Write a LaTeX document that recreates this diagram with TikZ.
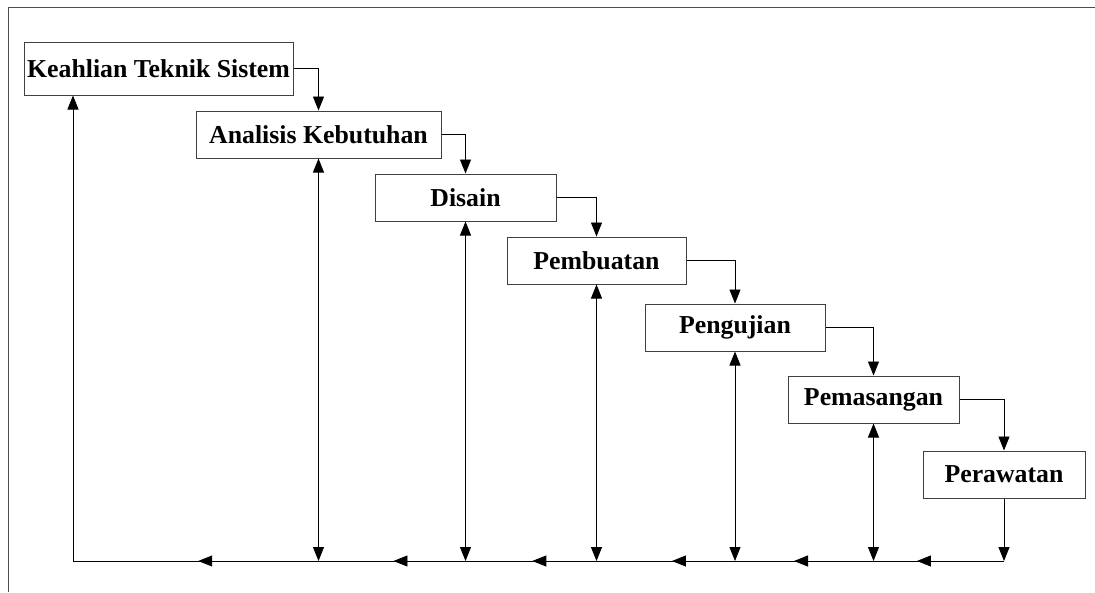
\documentclass[tikz,border=0pt]{standalone}
\usepackage{fontspec}
\setmainfont{Liberation Serif}
\usetikzlibrary{arrows.meta,decorations.markings}
\begin{document}
\begin{tikzpicture}[x=1pt,y=-1pt,
  >={Triangle[length=14pt,width=11pt]},
  box/.style={draw=black!75,line width=1pt,fill=white,inner sep=0pt,
    minimum height=47pt,font=\fontsize{25.8}{30}\selectfont\bfseries},
  conn/.style={draw=black,line width=0.9pt},
  midarr/.style={postaction={decorate},decoration={markings,
    mark=at position #1 with {\arrow{Triangle[length=14pt,width=11pt]}}}}]
\useasboundingbox (0,0) rectangle (1095,592);
\draw[black!70,line width=1pt] (8,592) -- (8,7) -- (1095,7);
% boxes
\node[box,minimum width=269pt,minimum height=53pt] (k) at (158.5,68.5) {Keahlian Teknik Sistem};
\node[box,minimum width=245pt] (a) at (318.5,134.5) {Analisis Kebutuhan};
\node[box,minimum width=181pt] (d) at (465.5,197.5) {Disain};
\node[box,minimum width=179pt] (p) at (596.5,260.5) {Pembuatan};
\node[box,minimum width=180pt] (u) at (735,327.5) {Pengujian};
\node[box,minimum width=171pt] (m) at (873.5,399.5) {Pemasangan};
\node[box,minimum width=162pt] (w) at (1004,474.5) {Perawatan};
% forward connectors
\draw[conn,->] (k.east) -| (a.north);
\draw[conn,->] (a.east) -| (d.north);
\draw[conn,->] (d.east) -| (p.north);
\draw[conn,->] (p.east) -| (u.north);
\draw[conn,->] (u.east) -| (m.north);
\draw[conn,->] (m.east) -| (w.north);
% feet on the bottom line
\coordinate (f1) at (73,561);
\coordinate (f2) at (a.south |- f1);
\coordinate (f3) at (d.south |- f1);
\coordinate (f4) at (p.south |- f1);
\coordinate (f5) at (u.south |- f1);
\coordinate (f6) at (m.south |- f1);
\coordinate (f7) at (w.south |- f1);
% verticals
\draw[conn,->] (f1) -- (f1 |- k.south);
\draw[conn,<->] (a.south) -- (f2);
\draw[conn,<->] (d.south) -- (f3);
\draw[conn,<->] (p.south) -- (f4);
\draw[conn,<->] (u.south) -- (f5);
\draw[conn,<->] (m.south) -- (f6);
\draw[conn,->] (w.south) -- (f7);
% bottom return line
\draw[conn,midarr=0.49] (f2) -- (f1);
\draw[conn,midarr=0.49] (f3) -- (f2);
\draw[conn,midarr=0.49] (f4) -- (f3);
\draw[conn,midarr=0.455] (f5) -- (f4);
\draw[conn,midarr=0.574] (f6) -- (f5);
\draw[conn,midarr=0.667] (f7) -- (f6);
\end{tikzpicture}
\end{document}
